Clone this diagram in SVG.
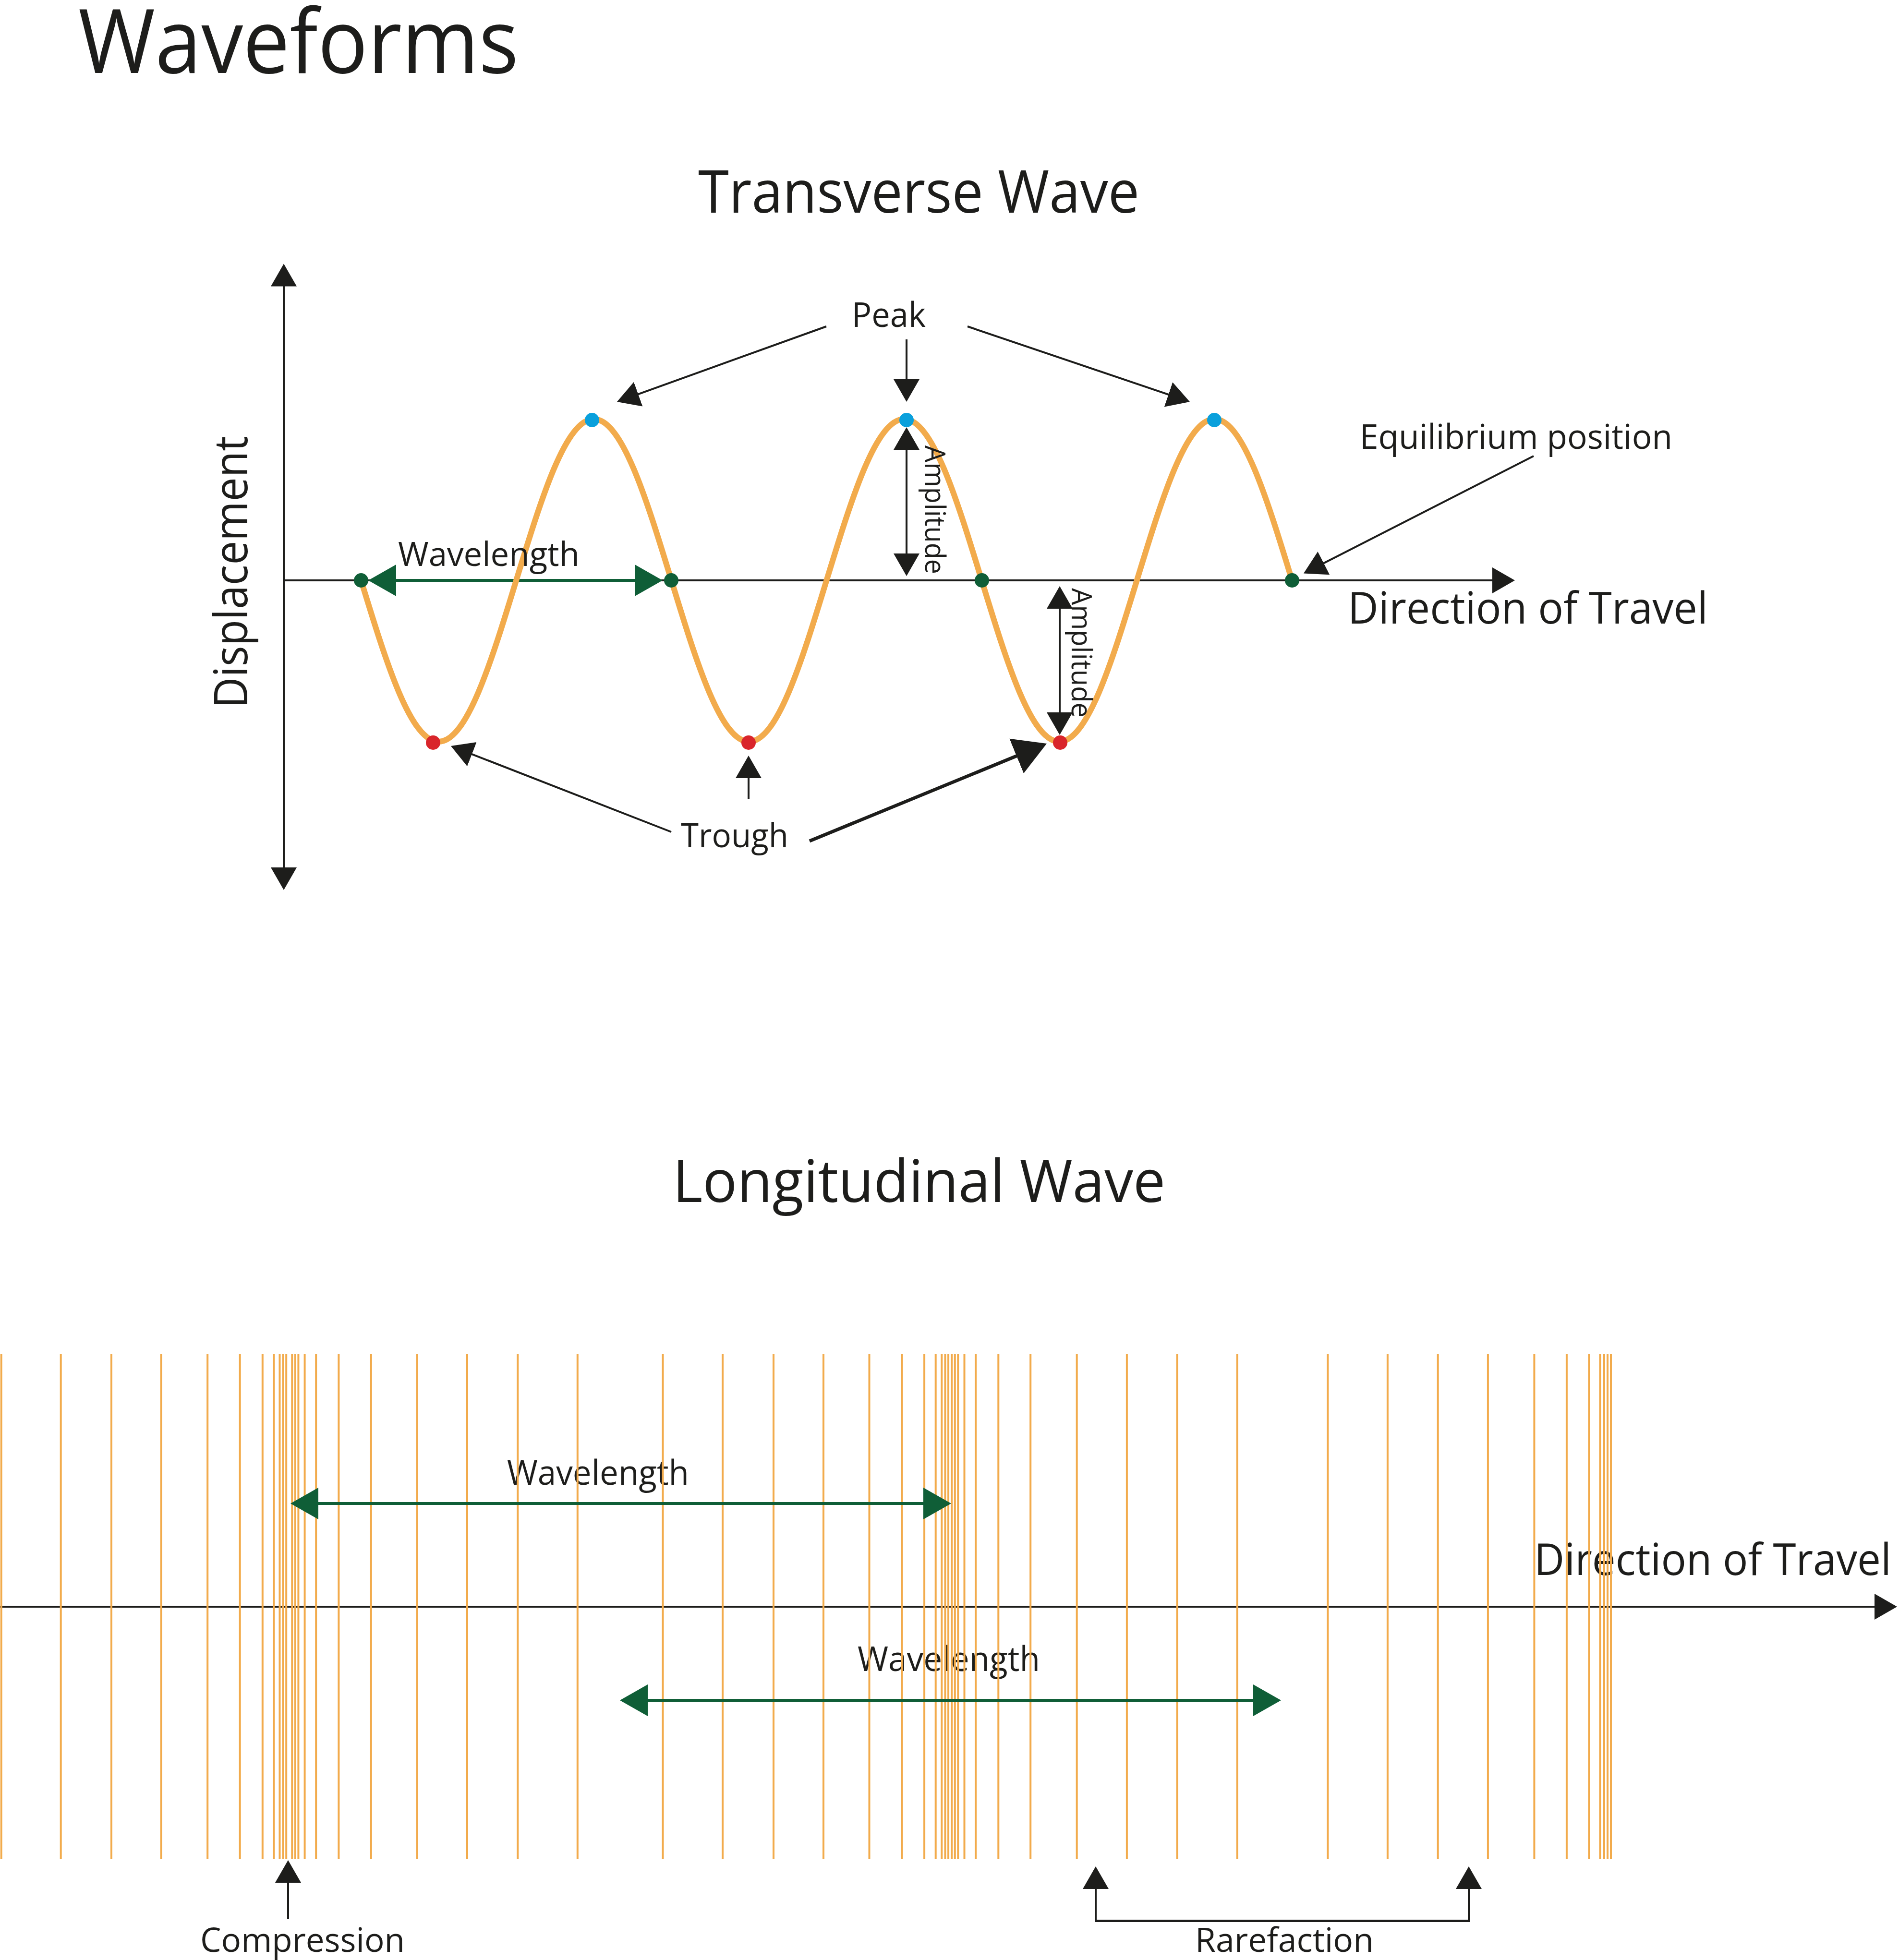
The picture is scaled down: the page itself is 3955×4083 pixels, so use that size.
<svg xmlns="http://www.w3.org/2000/svg" width="3955" height="4083" viewBox="0 0 3955 4083">
<style>
.t{font-family:'Open Sans','Noto Sans','DejaVu Sans',sans-serif;fill:#1d1d1b}
.ax{stroke:#1d1d1b;stroke-width:4;fill:none}
.ar{stroke:#1d1d1b;stroke-width:4;fill:none;marker-end:url(#ah)}
.thick{stroke:#1d1d1b;stroke-width:7;fill:none;marker-end:url(#ahb)}
.gr{stroke:#0f5e37;stroke-width:6;fill:none;marker-start:url(#gh);marker-end:url(#gh)}
.wave{stroke:#f2ab4c;stroke-width:12;fill:none}
.ln{stroke:#f2ab4c;stroke-width:4}
.gd{fill:#0f5e37}.bd{fill:#0aa0dc}.rd{fill:#d9252b}
</style>
<defs>
<marker id="ah" markerUnits="userSpaceOnUse" markerWidth="48" markerHeight="56" viewBox="0 -28 48 56" refX="39" refY="0" orient="auto-start-reverse"><path d="M0,-27L47,0L0,27Z" fill="#1d1d1b"/></marker>
<marker id="ahb" markerUnits="userSpaceOnUse" markerWidth="70" markerHeight="80" viewBox="0 -40 70 80" refX="56" refY="0" orient="auto-start-reverse"><path d="M0,-39L68,0L0,39Z" fill="#1d1d1b"/></marker>
<marker id="gh" markerUnits="userSpaceOnUse" markerWidth="60" markerHeight="68" viewBox="0 -34 60 68" refX="50" refY="0" orient="auto-start-reverse"><path d="M0,-33L58,0L0,33Z" fill="#0f5e37"/></marker>
</defs>
<rect width="3955" height="4083" fill="#ffffff"/>

<g id="title"><text class="t" x="163" y="152" font-size="185" textLength="917" lengthAdjust="spacingAndGlyphs">Waveforms</text></g>
<g id="transverse-title"><text class="t" x="1454" y="443" font-size="123" textLength="919" lengthAdjust="spacingAndGlyphs">Transverse Wave</text></g>
<g id="longitudinal-title"><text class="t" x="1401" y="2504" font-size="123" textLength="1026" lengthAdjust="spacingAndGlyphs">Longitudinal Wave</text></g>

<g id="transverse-axes">
<line class="ax" x1="591" y1="1846" x2="591" y2="557.5" marker-start="url(#ah)" marker-end="url(#ah)"/>
<line class="ar" x1="591" y1="1209" x2="3147" y2="1209"/>
</g>

<g id="transverse-wavelength"><line class="gr" x1="775" y1="1209" x2="1372" y2="1209"/></g>

<g id="transverse-wave">
<path class="wave" d="M752,1209 C804.69,1381.13 855.1,1545 913.58,1545 S1022.46,1381.13 1075.15,1209 S1178.25,873 1236.73,873 S1345.61,1036.87 1398.3,1209 S1501.4,1545 1559.88,1545 S1668.76,1381.13 1721.45,1209 S1824.55,873 1883.03,873 S1991.91,1036.87 2044.6,1209 S2147.7,1545 2206.18,1545 S2315.06,1381.13 2367.75,1209 S2470.85,873 2529.33,873 S2638.21,1036.87 2690.9,1209"/>
</g>

<g id="points">
<circle class="gd" cx="752" cy="1209" r="15"/>
<circle class="gd" cx="1398" cy="1209" r="15"/>
<circle class="gd" cx="2045" cy="1209" r="15"/>
<circle class="gd" cx="2691" cy="1209" r="15"/>
<circle class="bd" cx="1233" cy="875" r="15"/>
<circle class="bd" cx="1888" cy="875" r="15"/>
<circle class="bd" cx="2529" cy="875" r="15"/>
<circle class="rd" cx="902" cy="1547" r="15"/>
<circle class="rd" cx="1559" cy="1547" r="15"/>
<circle class="rd" cx="2208" cy="1547" r="15"/>
</g>

<g id="label-peak"><text class="t" x="1774" y="681" font-size="71" textLength="154" lengthAdjust="spacingAndGlyphs">Peak</text></g>
<g id="label-wavelength-top"><text class="t" x="829" y="1179" font-size="70" textLength="378" lengthAdjust="spacingAndGlyphs">Wavelength</text></g>
<g id="label-trough"><text class="t" x="1418" y="1765" font-size="70" textLength="224" lengthAdjust="spacingAndGlyphs">Trough</text></g>
<g id="label-equilibrium"><text class="t" x="2832" y="935" font-size="71" textLength="651" lengthAdjust="spacingAndGlyphs">Equilibrium position</text></g>
<g id="label-direction-top"><text class="t" x="2807" y="1299" font-size="91" textLength="750" lengthAdjust="spacingAndGlyphs">Direction of Travel</text></g>
<g id="label-displacement"><text class="t" transform="translate(515,1475) rotate(-90)" x="0" y="0" font-size="97" textLength="567" lengthAdjust="spacingAndGlyphs">Displacement</text></g>
<g id="label-amplitude-1"><text class="t" transform="translate(1927,928) rotate(90)" x="0" y="0" font-size="59" textLength="268" lengthAdjust="spacingAndGlyphs">Amplitude</text></g>
<g id="label-amplitude-2"><text class="t" transform="translate(2232,1225) rotate(90)" x="0" y="0" font-size="59" textLength="270" lengthAdjust="spacingAndGlyphs">Amplitude</text></g>

<g id="longitudinal-axis"><line class="ar" x1="0" y1="3347" x2="3943" y2="3347"/></g>
<g id="label-direction-bottom"><text class="t" x="3195" y="3281" font-size="91" textLength="744" lengthAdjust="spacingAndGlyphs">Direction of Travel</text></g>
<g id="label-wavelength-1"><text class="t" x="1056" y="3093" font-size="71" textLength="379" lengthAdjust="spacingAndGlyphs">Wavelength</text></g>
<g id="label-wavelength-2"><text class="t" x="1786" y="3481" font-size="71" textLength="380" lengthAdjust="spacingAndGlyphs">Wavelength</text></g>
<g id="label-compression"><text class="t" x="417" y="4066" font-size="70" textLength="426" lengthAdjust="spacingAndGlyphs">Compression</text></g>
<g id="label-rarefaction"><text class="t" x="2489" y="4066" font-size="70" textLength="372" lengthAdjust="spacingAndGlyphs">Rarefaction</text></g>

<g id="longitudinal-lines">
<path class="ln" d="M2.7,2821V3873M126.7,2821V3873M232,2821V3873M335.7,2821V3873M432.2,2821V3873M499.7,2821V3873M546.8,2821V3873M570.4,2821V3873M582.5,2821V3873M589.6,2821V3873M596.2,2821V3873M608.3,2821V3873M614.9,2821V3873M621.4,2821V3873M634.6,2821V3873M658.2,2821V3873M705.4,2821V3873M772.8,2821V3873M868.8,2821V3873M973,2821V3873M1078.3,2821V3873M1202.8,2821V3873M1380.5,2821V3873M1505,2821V3873M1611,2821V3873M1715,2821V3873M1810.5,2821V3873M1878.5,2821V3873M1925.1,2821V3873M1948.7,2821V3873M1961.3,2821V3873M1968.5,2821V3873M1975.1,2821V3873M1982.2,2821V3873M1988.8,2821V3873M1995.3,2821V3873M2008.5,2821V3873M2032.1,2821V3873M2079.3,2821V3873M2146.2,2821V3873M2242.7,2821V3873M2346.9,2821V3873M2451.7,2821V3873M2576.8,2821V3873M2765.4,2821V3873M2889.9,2821V3873M2994.7,2821V3873M3098.9,2821V3873M3195.4,2821V3873M3262.9,2821V3873M3309.5,2821V3873M3332.5,2821V3873M3341,2821V3873M3348,2821V3873M3355,2821V3873"/>
</g>

<g id="connectors">
<line class="ar" x1="1721" y1="680" x2="1292.5" y2="834.3"/>
<line class="ar" x1="1888" y1="707" x2="1888" y2="829"/>
<line class="ar" x1="2015" y1="680" x2="2470.4" y2="834.4"/>
<line class="ar" x1="1888" y1="898" x2="1888" y2="1192" marker-start="url(#ah)"/>
<line class="ar" x1="2207" y1="1229" x2="2207" y2="1523" marker-start="url(#ah)"/>
<line class="ar" x1="1398" y1="1733" x2="946.5" y2="1556.9"/>
<line class="ar" x1="1559" y1="1665" x2="1559" y2="1582"/>
<line class="thick" x1="1686" y1="1752" x2="2168.9" y2="1553.6"/>
<line class="ar" x1="3194" y1="950" x2="2722.1" y2="1190.9"/>
<line class="gr" x1="613" y1="3132" x2="1973" y2="3132"/>
<line class="gr" x1="1299" y1="3542" x2="2660" y2="3542"/>
<line class="ar" x1="600" y1="3998" x2="600" y2="3883"/>
<line class="ar" x1="2282" y1="4001.5" x2="2282" y2="3896"/>
<line class="ar" x1="3059" y1="4001.5" x2="3059" y2="3896"/>
<line x1="2280" y1="4001.5" x2="3061" y2="4001.5" stroke="#1d1d1b" stroke-width="5"/>
</g>
</svg>
